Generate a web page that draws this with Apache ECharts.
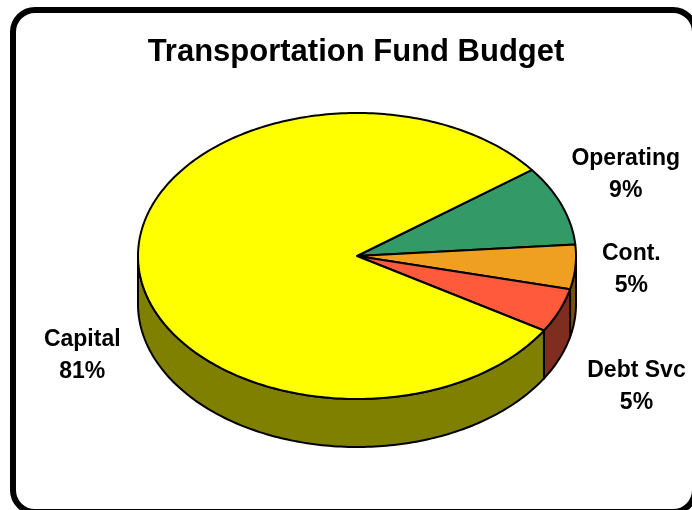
<!DOCTYPE html>
<html>
<head>
<meta charset="utf-8">
<script src="https://cdn.jsdelivr.net/npm/echarts@6/dist/echarts.min.js"></script>
<style>
  html, body { margin: 0; padding: 0; background: #ffffff; }
  #chart { width: 692px; height: 510px; }
</style>
</head>
<body>
<div id="chart"></div>
<script>
// Budget shares by fund category
const categories = ['Operating', 'Cont.', 'Debt Svc', 'Capital'];
const values = [9, 5, 5, 81];
const percentLabels = ['9%', '5%', '5%', '81%'];
const topColors = ['#339966', '#F0A020', '#FF5A3C', '#FFFF00'];

// Geometry of the tilted pie (ellipse top face plus a visible rim)
const CX = 357, CY = 256, RX = 219, RY = 143, DEPTH = 48;
const START_DEG = 37;          // first slice starts here and runs clockwise
// label placement relative to the rim point at each slice's mid-angle
const labelOffsets = [[64, -31], [56, 3], [77, 76], [-56, 93]];

const FONT = '"Liberation Sans", Arial, sans-serif';

const total = values.reduce((a, b) => a + b, 0);
const slices = [];
let acc = START_DEG;
values.forEach((v) => {
  const sweep = v / total * 360;
  slices.push({ from: acc, to: acc - sweep });
  acc -= sweep;
});

function rim(deg, drop) {
  const t = deg * Math.PI / 180;
  return [CX + RX * Math.cos(t), CY - RY * Math.sin(t) + (drop || 0)];
}

function arc(fromDeg, toDeg, drop) {
  const pts = [];
  const n = Math.max(2, Math.ceil(Math.abs(fromDeg - toDeg) / 1));
  for (let k = 0; k <= n; k++) {
    pts.push(rim(fromDeg + (toDeg - fromDeg) * k / n, drop));
  }
  return pts;
}

function darken(hex) {
  const n = parseInt(hex.slice(1), 16);
  const r = ((n >> 16) & 255) >> 1, g = ((n >> 8) & 255) >> 1, b = (n & 255) >> 1;
  return 'rgb(' + r + ',' + g + ',' + b + ')';
}

function renderItem(params, api) {
  const i = params.dataIndex;
  const s = slices[i];
  const children = [];

  // front wall: only the part of the slice on the near half of the ellipse
  for (let k = -2; k <= 1; k++) {
    const lo = -180 + 360 * k, hi = 360 * k;
    const e = Math.min(s.from, hi), b = Math.max(s.to, lo);
    if (e > b) {
      const pts = arc(e, b, 0).concat(arc(b, e, DEPTH));
      children.push({
        type: 'polygon',
        z2: 1,
        shape: { points: pts },
        style: { fill: darken(topColors[i]), stroke: '#000', lineWidth: 2, lineJoin: 'round' }
      });
    }
  }

  // top face
  const top = [[CX, CY]].concat(arc(s.from, s.to, 0));
  children.push({
    type: 'polygon',
    z2: 10,
    shape: { points: top },
    style: { fill: topColors[i], stroke: '#000', lineWidth: 2, lineJoin: 'round' }
  });

  // data label
  const mid = (s.from + s.to) / 2;
  const p = rim(mid, 0);
  children.push({
    type: 'text',
    z2: 20,
    x: p[0] + labelOffsets[i][0],
    y: p[1] + labelOffsets[i][1],
    style: {
      text: categories[i] + '\n' + percentLabels[i],
      fill: '#000',
      fontSize: 23,
      fontWeight: 'bold',
      fontFamily: FONT,
      lineHeight: 32,
      align: 'center',
      verticalAlign: 'middle'
    }
  });

  return { type: 'group', children: children };
}

const chart = echarts.init(document.getElementById('chart'), null, { renderer: 'canvas' });
chart.setOption({
  animation: false,
  backgroundColor: '#ffffff',
  title: {
    text: 'Transportation Fund Budget',
    left: 351,
    textAlign: 'center',
    top: 32,
    textStyle: { fontSize: 31, fontWeight: 'bold', fontFamily: FONT, color: '#000' }
  },
  graphic: [{
    type: 'rect',
    shape: { x: 13, y: 10, width: 682, height: 502, r: 22 },
    style: { fill: 'none', stroke: '#000', lineWidth: 6 },
    z: 0
  }],
  series: [{
    type: 'custom',
    coordinateSystem: 'none',
    renderItem: renderItem,
    data: values.map((v, i) => ({ name: categories[i], value: v }))
  }]
});
</script>
</body>
</html>
